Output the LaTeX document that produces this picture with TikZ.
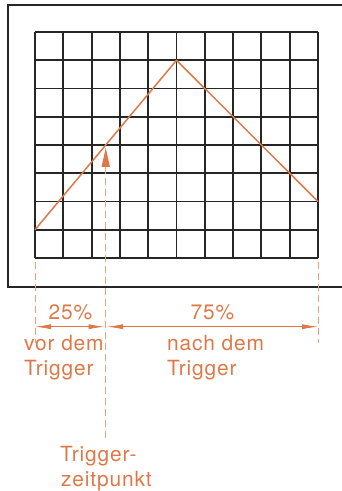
\documentclass[tikz,border=0pt]{standalone}
\usepackage{fontspec}
\setmainfont{TeX Gyre Heros}[LetterSpace=4]
\usetikzlibrary{arrows.meta}
\definecolor{orng}{RGB}{222,120,70}
\definecolor{orngl}{RGB}{236,160,120}
\tikzset{
  gridline/.style={line width=1.9bp, black!85},
  frameline/.style={line width=1.8bp, black!85},
  signal/.style={line width=1.5bp, orng},
  guide/.style={line width=0.8bp, orngl, dash pattern=on 7bp off 4bp},
  dim/.style={line width=0.8bp, orng, {Latex[length=16bp,width=5bp]}-{Latex[length=16bp,width=5bp]}},
  lbl/.style={inner sep=0pt, text=orng, anchor=base west, font=\fontsize{21}{25}\selectfont}
}
\begin{document}
\begin{tikzpicture}[x=1bp,y=-1bp]
\useasboundingbox (0,0) rectangle (341,491);
% outer frame
\draw[frameline] (345,5) -- (8,5) -- (8,287) -- (345,287);
% grid
\foreach \i in {0,...,10} {
  \draw[gridline] ({35+\i*28.3},32) -- ({35+\i*28.3},258);
}
\foreach \j in {0,...,8} {
  \draw[gridline] (35,{32+\j*28.25}) -- (318,{32+\j*28.25});
}
% signal
\coordinate (s0) at (35,229.75);
\coordinate (sp) at (176.5,60.25);
\coordinate (s1) at (318,201.5);
\draw[signal, line join=round] (s0) -- (sp) -- (s1);
% guides
\coordinate (gl0) at (35,262);
\coordinate (gl1) at (35,343);
\coordinate (gr0) at (318,262);
\coordinate (gr1) at (318,343);
\coordinate (gt0) at (105.75,167);
\coordinate (gt1) at (105.75,440);
\coordinate (gtip) at (105.75,148);
\draw[guide] (gl0) -- (gl1);
\draw[guide] (gr0) -- (gr1);
\draw[guide] (gt0) -- (gt1);
\fill[orng] (gtip) -- (101.5,167) -- (110,167) -- cycle;
% dimension arrows
\coordinate (d0) at (35,326.7);
\coordinate (d1) at (104.5,326.7);
\coordinate (d2) at (107,326.7);
\coordinate (d3) at (318,326.7);
\draw[dim] (d0) -- (d1);
\draw[dim] (d2) -- (d3);
% labels
\node[lbl, anchor=base] (p25) at (70.5,319) {25\%};
\node[lbl, anchor=base] (p75) at (212.5,319) {75\%};
\node[lbl] (vor1) at (24,350) {vor dem};
\node[lbl] (vor2) at (24,375) {Trigger};
\node[lbl] (nach1) at (167,350) {nach dem};
\node[lbl] (nach2) at (167,375) {Trigger};
\node[lbl] (tz1) at (60,461.5) {Trigger-};
\node[lbl] (tz2) at (61,486.5) {zeitpunkt};
\end{tikzpicture}
\end{document}
